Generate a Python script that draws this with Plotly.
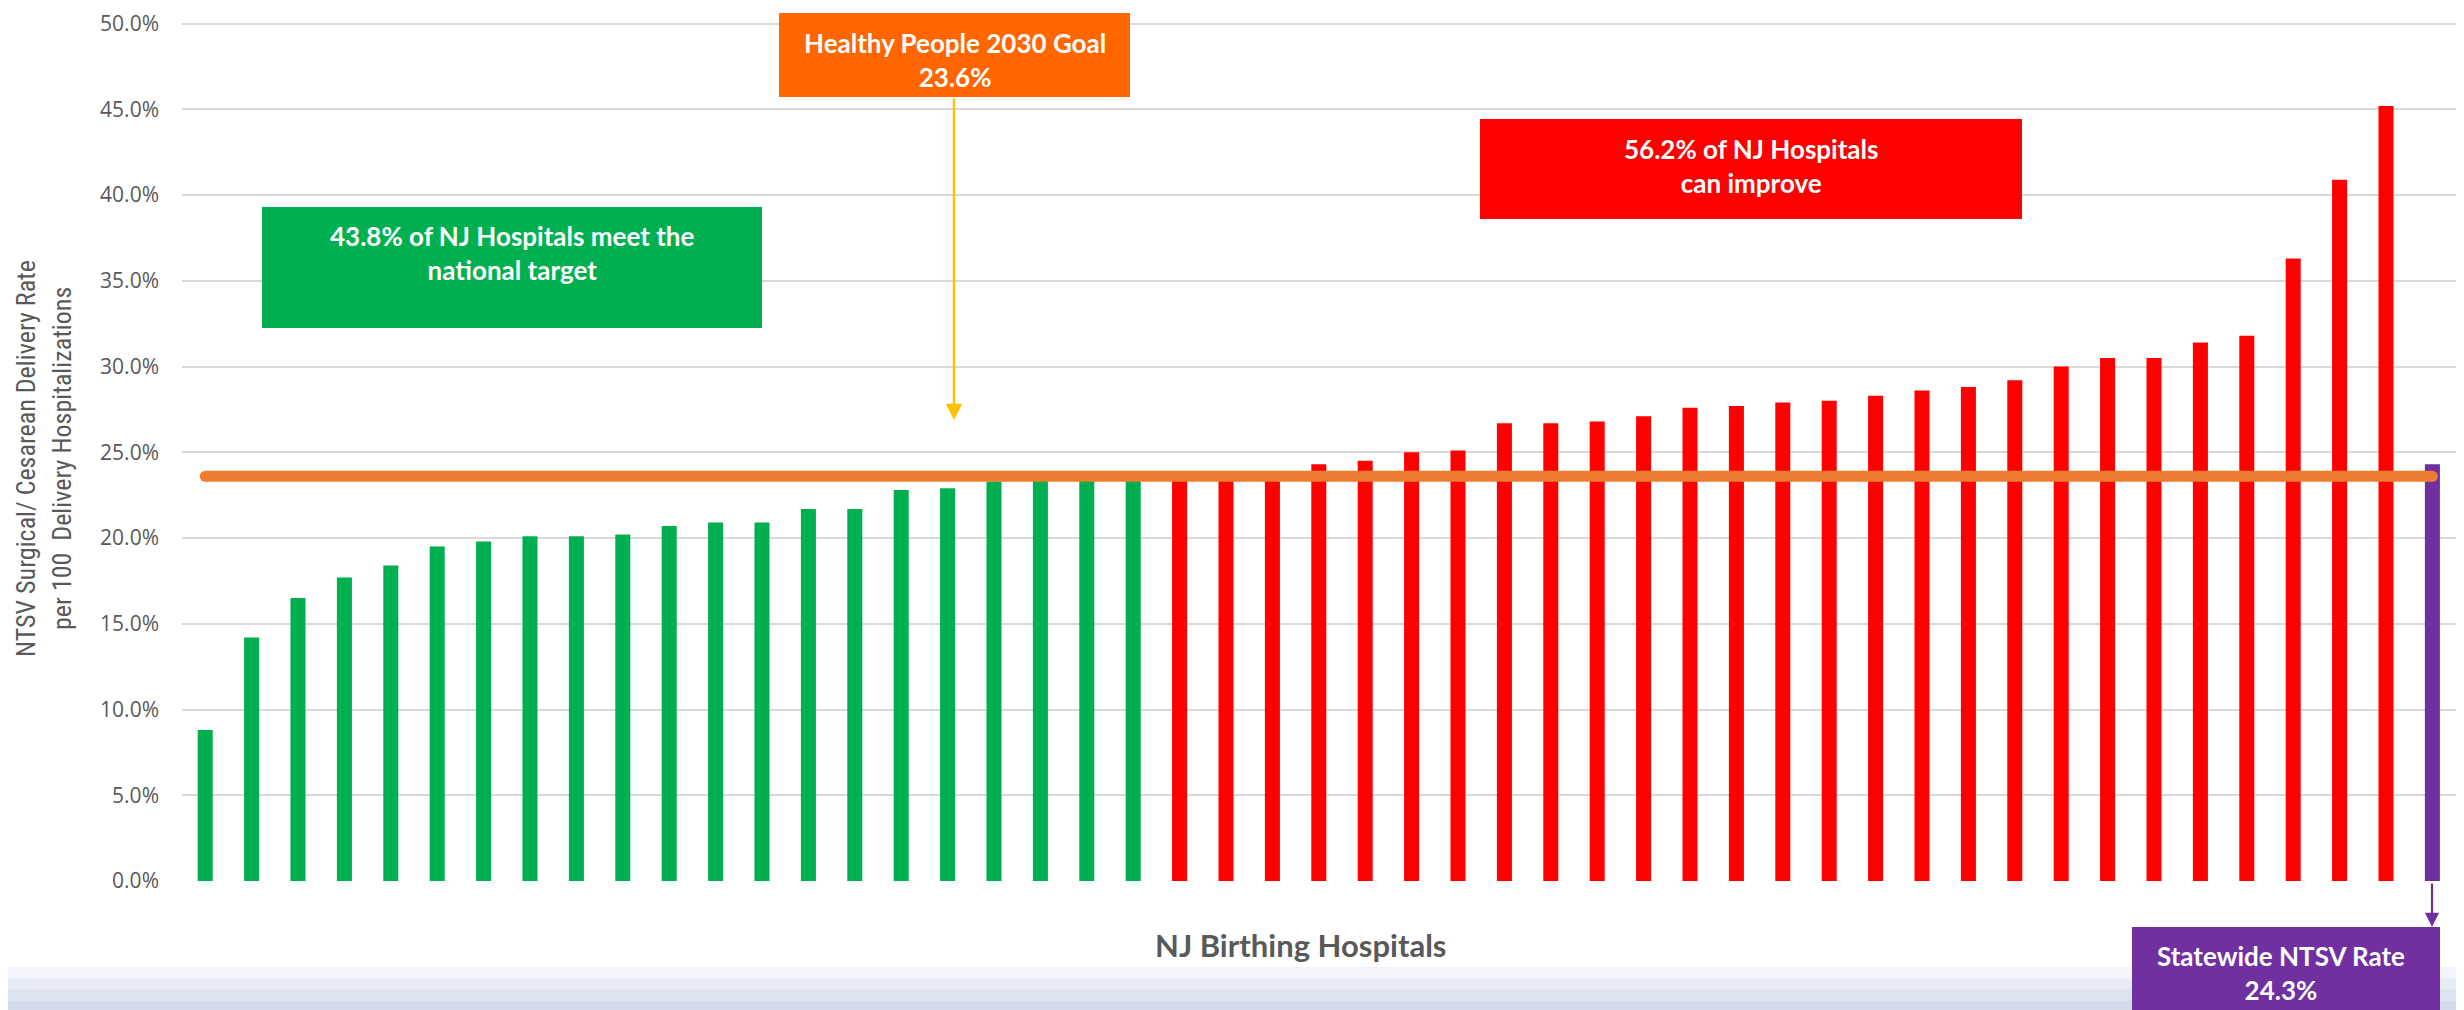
import plotly.graph_objects as go

# ---------------- data ----------------
green_values = [8.8, 14.2, 16.5, 17.7, 18.4, 19.5, 19.8, 20.1, 20.1, 20.2, 20.7,
                20.9, 20.9, 21.7, 21.7, 22.8, 22.9, 23.3, 23.4, 23.5, 23.5]
red_values = [23.7, 23.8, 23.9, 24.3, 24.5, 25.0, 25.1, 26.7, 26.7, 26.8, 27.1,
              27.6, 27.7, 27.9, 28.0, 28.3, 28.6, 28.8, 29.2, 30.0, 30.5, 30.5,
              31.4, 31.8, 36.3, 40.9, 45.2]
statewide_rate = [24.3]
goal_rate = 23.6
y_tick_values = [0, 5, 10, 15, 20, 25, 30, 35, 40, 45, 50]
y_tick_labels = [f"{v:.1f}%" for v in y_tick_values]

green_x = list(range(len(green_values)))
red_x = list(range(len(green_values), len(green_values) + len(red_values)))
state_x = [len(green_values) + len(red_values)]

# ---------------- layout geometry ----------------
OFF = 8                      # page body margin
W, H = 2464 - OFF, 1010 - OFF
L, R, T, B = 174, 6, 7, 129
PW, PH = W - L - R, H - T - B
STEP = 46.4                  # pixel spacing of one category

def px(x):
    return (x - OFF - L) / PW

def py(y):
    return (T + PH - (y - OFF)) / PH

NARROW = "Liberation Sans Narrow, Arial Narrow, Roboto Condensed, Roboto, sans-serif"
BOLDF = "Lato, Open Sans, sans-serif"
GREY = "#595959"

fig = go.Figure()
bar_w = 0.324
fig.add_trace(go.Bar(x=green_x, y=green_values, width=bar_w, marker_color="#00B050",
                     marker_line_width=0, showlegend=False))
fig.add_trace(go.Bar(x=red_x, y=red_values, width=bar_w, marker_color="#FF0000",
                     marker_line_width=0, showlegend=False))
fig.add_trace(go.Bar(x=state_x, y=statewide_rate, width=bar_w, marker_color="#7030A0",
                     marker_line_width=0, showlegend=False))
# goal line
fig.add_trace(go.Scatter(x=[0, state_x[0]], y=[goal_rate, goal_rate], mode="lines+markers",
                         line=dict(color="#ED7D31", width=11),
                         marker=dict(color="#ED7D31", size=11, line=dict(width=0)),
                         cliponaxis=False, showlegend=False, hoverinfo="skip"))

shapes = []
# bottom gradient band
bands = [(967, 979, "#F2F4F9"), (979, 990, "#E7EBF4"), (990, 1001, "#DDE3EF"), (1001, 1012, "#D4DCEB")]
for y0, y1, c in bands:
    shapes.append(dict(type="rect", xref="paper", yref="paper", x0=px(0), x1=px(2470),
                       y0=py(y1), y1=py(y0), fillcolor=c, line=dict(width=0), layer="below"))

def box(x0, x1, y0, y1, color):
    shapes.append(dict(type="rect", xref="paper", yref="paper", x0=px(x0), x1=px(x1),
                       y0=py(y1), y1=py(y0), fillcolor=color, line=dict(width=0), layer="above"))

box(779, 1130, 13, 97, "#FF6600")
box(262, 762, 207, 328, "#00B050")
box(1480, 2022, 119, 219, "#FF0000")
box(2132, 2440, 927, 1015, "#7030A0")

ann = []

def label(text, x, y, size=26, color="white", bold=True, angle=0, family=BOLDF):
    ann.append(dict(text=f"<b>{text}</b>" if bold else text, xref="paper", yref="paper",
                    x=px(x), y=py(y), xanchor="center", yanchor="middle", showarrow=False,
                    textangle=angle, font=dict(size=size, color=color, family=family)))

label("Healthy People 2030 Goal<br>23.6%", 955, 60)
label("43.8% of NJ Hospitals meet the<br>national target", 512, 253)
label("56.2% of NJ Hospitals<br>can improve", 1751, 166)
label("Statewide NTSV Rate<br>24.3%", 2281, 973)
label("NJ Birthing Hospitals", 1301, 945, size=31, color=GREY)
label("NTSV Surgical/ Cesarean Delivery Rate", 26, 459, size=26, color=GREY, bold=False,
      angle=-90, family=NARROW)
label("per 100  Delivery Hospitalizations", 62, 459, size=26, color=GREY, bold=False,
      angle=-90, family=NARROW)

# arrows
ann.append(dict(text="", xref="paper", yref="paper", x=px(954), y=py(420), ax=0, ay=-(420 - 97),
                showarrow=True, arrowhead=2, arrowsize=1.3, arrowwidth=2.5, arrowcolor="#FFC000",
                standoff=0, startstandoff=0))
ann.append(dict(text="", xref="paper", yref="paper", x=px(2432), y=py(927), ax=0, ay=-(927 - 882),
                showarrow=True, arrowhead=2, arrowsize=1.3, arrowwidth=2.2, arrowcolor="#7030A0",
                standoff=0, startstandoff=0))

fig.update_layout(
    width=W, height=H, margin=dict(l=L, r=R, t=T, b=B, autoexpand=False),
    paper_bgcolor="white", plot_bgcolor="white",
    barmode="overlay", shapes=shapes, annotations=ann,
    xaxis=dict(range=[-0.5, -0.5 + PW / STEP], showgrid=False, showticklabels=False,
               zeroline=False, showline=False, ticks="", automargin=False),
    yaxis=dict(range=[0, 50.5], tickvals=y_tick_values, ticktext=y_tick_labels,
               showgrid=True, gridcolor="#D9D9D9", gridwidth=2, zeroline=False,
               showline=False, ticks="", ticklabelstandoff=22, ticklabeloverflow="allow",
               automargin=False,
               tickfont=dict(family="Open Sans", size=21, color=GREY)),
)

fig.write_html("out.html")
